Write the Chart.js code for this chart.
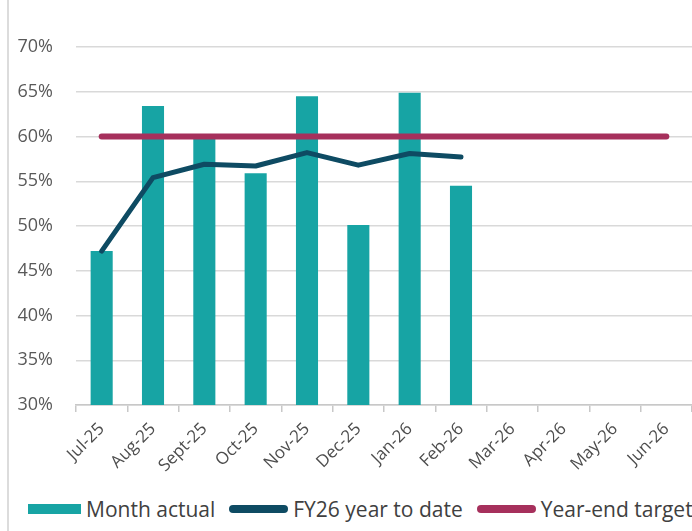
<!DOCTYPE html>
<html lang="en">
<head>
<meta charset="UTF-8">
<title>Month actual vs year to date</title>
<script src="https://cdn.jsdelivr.net/npm/chart.js"></script>
<style>
  html, body { margin: 0; padding: 0; background: #fff; overflow: hidden; }
  body { width: 692px; height: 531px; position: relative; font-family: "Open Sans", sans-serif; }
  .frame { position: absolute; left: 7px; top: 0; width: 2px; height: 531px; background: #dcdcdc; }
  .chart-box { position: absolute; left: 0; top: 0; width: 692px; height: 480px; }
  .legend { position: absolute; left: 28px; top: 495px; display: flex; align-items: center; white-space: nowrap;
            font-size: 21px; color: #404040; }
  .legend .item { display: flex; align-items: center; margin-right: 14px; }
  .legend .mark { margin-right: 5px; }
  .legend .box { width: 53px; height: 10px; }
  .legend .line { width: 59px; height: 8px; border-radius: 4px; }
</style>
</head>
<body>
<div class="frame"></div>
<div class="chart-box"><canvas id="kpiChart"></canvas></div>
<div class="legend" id="legend"></div>

<script>
  var months = ["Jul-25", "Aug-25", "Sept-25", "Oct-25", "Nov-25", "Dec-25",
                "Jan-26", "Feb-26", "Mar-26", "Apr-26", "May-26", "Jun-26"];
  var monthActual = [47.2, 63.4, 59.9, 55.9, 64.5, 50.1, 64.9, 54.5];
  var yearToDate = [47.2, 55.4, 56.9, 56.7, 58.2, 56.8, 58.1, 57.7];
  var yearEndTarget = [60, 60, 60, 60, 60, 60, 60, 60, 60, 60, 60, 60];
  var yTicks = [30, 35, 40, 45, 50, 55, 60, 65, 70];

  var teal = "#17a4a4";
  var navy = "#0e4b63";
  var crimson = "#a6305c";
  var gridGrey = "#d9d9d9";
  var textGrey = "#595959";

  var ctx = document.getElementById("kpiChart").getContext("2d");
  new Chart(ctx, {
    type: "bar",
    data: {
      labels: months,
      datasets: [
        {
          type: "line",
          label: "Year-end target",
          data: yearEndTarget,
          borderColor: crimson,
          backgroundColor: crimson,
          borderWidth: 6,
          borderCapStyle: "round",
          pointRadius: 0,
          tension: 0,
          order: 1
        },
        {
          type: "line",
          label: "FY26 year to date",
          data: yearToDate,
          borderColor: navy,
          backgroundColor: navy,
          borderWidth: 5,
          borderCapStyle: "round",
          borderJoinStyle: "round",
          pointRadius: 0,
          tension: 0,
          order: 2
        },
        {
          label: "Month actual",
          data: monthActual,
          backgroundColor: teal,
          categoryPercentage: 1,
          barPercentage: 0.43,
          order: 3
        }
      ]
    },
    options: {
      responsive: true,
      maintainAspectRatio: false,
      animation: false,
      layout: { padding: { top: 47, left: 0, right: 0, bottom: 0 } },
      plugins: {
        legend: { display: false },
        tooltip: { enabled: false }
      },
      scales: {
        x: {
          offset: true,
          afterFit: function (s) { s.height = 75; },
          grid: {
            offset: true,
            drawOnChartArea: false,
            drawTicks: true,
            tickLength: 7,
            color: "#c8c8c8",
            lineWidth: 1.5
          },
          border: { display: true, color: "#c8c8c8", width: 1.5 },
          ticks: {
            autoSkip: false,
            minRotation: 45,
            maxRotation: 45,
            padding: 7,
            color: "#4d4d4d",
            font: { family: "Open Sans", size: 17 }
          }
        },
        y: {
          min: 30,
          max: 70,
          afterFit: function (s) { s.width = 76; },
          afterBuildTicks: function (s) { s.ticks = yTicks.map(function (v) { return { value: v }; }); },
          grid: { color: gridGrey, lineWidth: 1.5, drawTicks: false },
          border: { display: false },
          ticks: {
            padding: 23,
            color: textGrey,
            font: { family: "Open Sans", size: 18 },
            callback: function (v) { return v + "%"; }
          }
        }
      }
    }
  });

  // legend drawn as html under the chart
  var legendItems = [
    { text: "Month actual", color: teal, kind: "box" },
    { text: "FY26 year to date", color: navy, kind: "line" },
    { text: "Year-end target", color: crimson, kind: "line" }
  ];
  var legendEl = document.getElementById("legend");
  legendItems.forEach(function (it) {
    var item = document.createElement("div");
    item.className = "item";
    var mark = document.createElement("span");
    mark.className = "mark " + it.kind;
    mark.style.background = it.color;
    var label = document.createElement("span");
    label.textContent = it.text;
    item.appendChild(mark);
    item.appendChild(label);
    legendEl.appendChild(item);
  });
</script>
</body>
</html>
